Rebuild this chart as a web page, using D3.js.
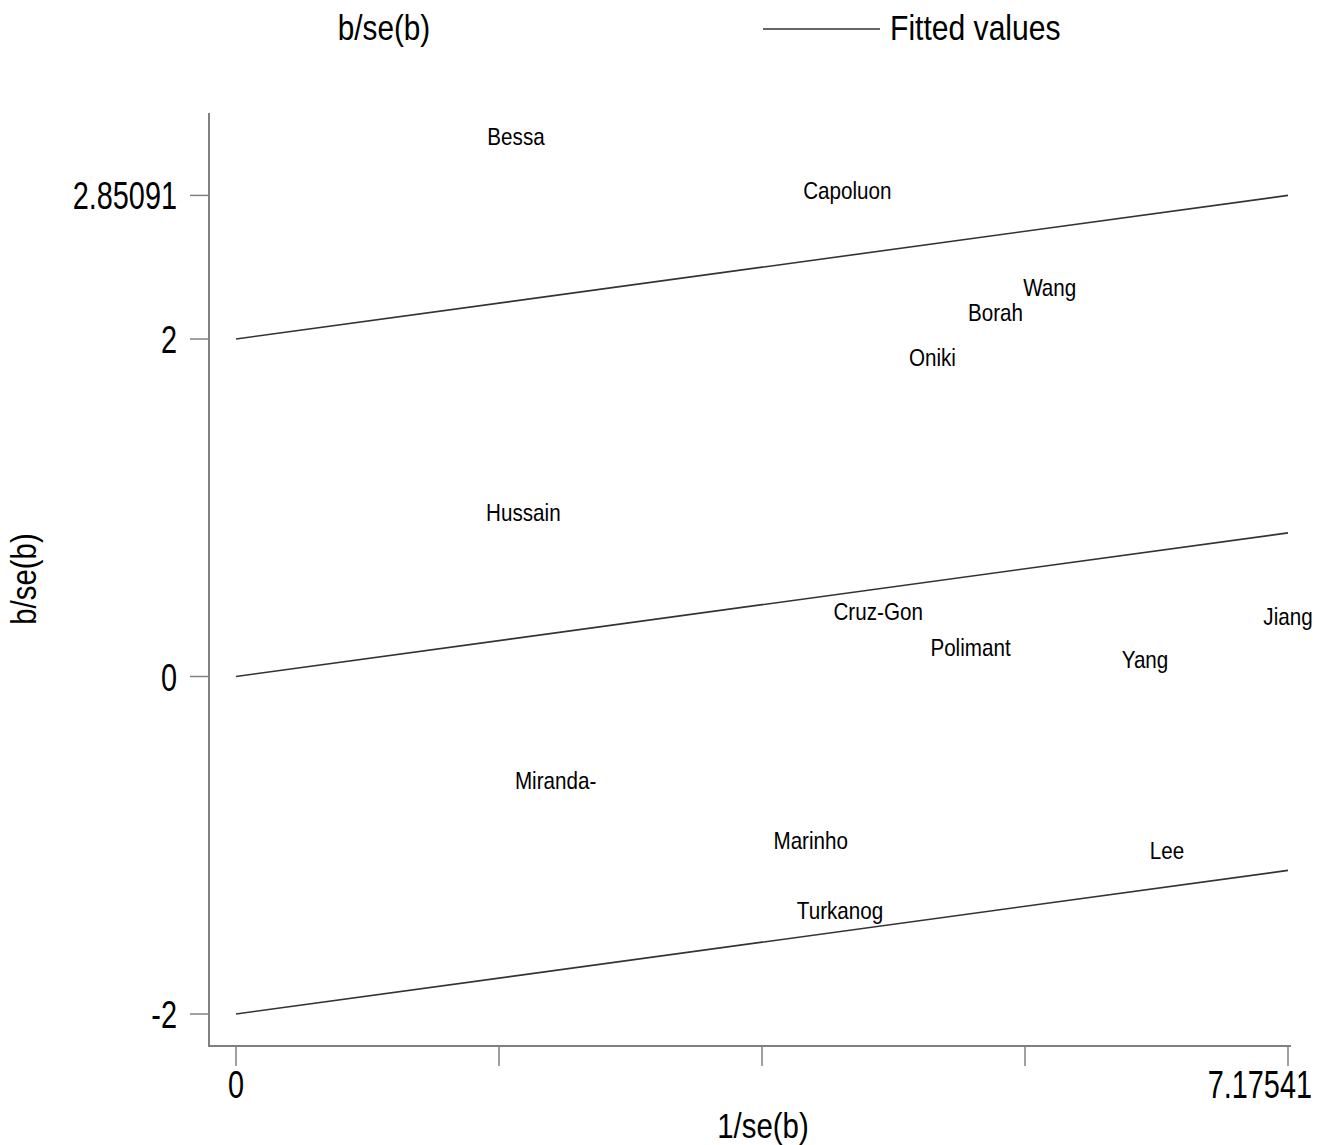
<!DOCTYPE html>
<html>
<head>
<meta charset="utf-8">
<script src="https://cdn.jsdelivr.net/npm/d3@7"></script>
<style>
  html, body { margin: 0; padding: 0; background: #fff; }
  svg { display: block; font-family: "Liberation Sans", Arial, sans-serif; }
</style>
</head>
<body>
<svg id="chart" width="1319" height="1145"></svg>
<script>
// Galbraith plot: standardized effect b/se(b) against precision 1/se(b)
const studies = ["Bessa", "Capoluon", "Wang", "Borah", "Oniki", "Hussain", "Cruz-Gon", "Jiang",
                 "Polimant", "Yang", "Miranda-", "Marinho", "Lee", "Turkanog"];
const precision = [1.91, 4.17, 5.55, 5.18, 4.75, 1.96, 4.38, 7.17541, 5.01, 6.20, 2.18, 3.92, 6.35, 4.12];
const zScore = [3.20, 2.876, 2.30, 2.154, 1.89, 0.97, 0.385, 0.35, 0.17, 0.10, -0.62, -0.976, -1.036, -1.39];

// fitted regression line through origin plus the ±2 bands
const xRange = [0, 7.17541];
const fittedEnd = 0.85091;
const bandOffsets = [2, 0, -2];

const xTicks = [0, 1.79385, 3.5877, 5.38156, 7.17541];
const xTickLabels = ["0", "", "", "", "7.17541"];
const yTicks = [-2, 0, 2, 2.85091];
const yTickLabels = ["-2", "0", "2", "2.85091"];

const svg = d3.select("#chart");

const x = d3.scaleLinear().domain([0, 7.17541]).range([236, 1288]);
const y = d3.scaleLinear().domain([-2, 2]).range([1014, 339]);

const axisColor = "#808080";

// condensed text helper
function label(g, tx, ty, str, size, anchor, sx) {
  return g.append("text")
    .attr("transform", `translate(${tx},${ty}) scale(${sx},1)`)
    .attr("text-anchor", anchor || "middle")
    .attr("font-size", size)
    .attr("fill", "#000")
    .text(str);
}

// axes frame
svg.append("line").attr("x1", 209).attr("x2", 209).attr("y1", 113).attr("y2", 1046)
  .attr("stroke", axisColor).attr("stroke-width", 2);
svg.append("line").attr("x1", 208).attr("x2", 1291).attr("y1", 1046).attr("y2", 1046)
  .attr("stroke", axisColor).attr("stroke-width", 2);

// y ticks
yTicks.forEach((v, i) => {
  svg.append("line").attr("x1", 190).attr("x2", 209).attr("y1", y(v)).attr("y2", y(v))
    .attr("stroke", axisColor).attr("stroke-width", 1.5);
  label(svg, 177, y(v) + 14, yTickLabels[i], 38, "end", 0.76);
});

// x ticks
xTicks.forEach((v, i) => {
  svg.append("line").attr("x1", x(v)).attr("x2", x(v)).attr("y1", 1046).attr("y2", 1066)
    .attr("stroke", axisColor).attr("stroke-width", 1.5);
  if (xTickLabels[i]) {
    const last = i === xTicks.length - 1;
    label(svg, last ? x(v) + 24 : x(v), 1098, xTickLabels[i], 38, last ? "end" : "middle", 0.76);
  }
});

// axis titles
label(svg, 763, 1138, "1/se(b)", 35, "middle", 0.84);
svg.append("text")
  .attr("transform", `translate(36,579) rotate(-90) scale(0.84,1)`)
  .attr("text-anchor", "middle").attr("font-size", 35).attr("fill", "#000")
  .text("b/se(b)");

// fitted lines
bandOffsets.forEach(off => {
  svg.append("line")
    .attr("x1", x(xRange[0])).attr("y1", y(off))
    .attr("x2", x(xRange[1])).attr("y2", y(off + fittedEnd))
    .attr("stroke", "#333").attr("stroke-width", 1.6);
});

// study labels as markers
studies.forEach((s, i) => {
  label(svg, x(precision[i]), y(zScore[i]) + 8, s, 24, "middle", 0.86);
});

// legend
label(svg, 384, 40, "b/se(b)", 35, "middle", 0.85);
svg.append("line").attr("x1", 763).attr("x2", 880).attr("y1", 29).attr("y2", 29)
  .attr("stroke", "#333").attr("stroke-width", 1.6);
label(svg, 890, 40, "Fitted values", 35, "start", 0.86);
</script>
</body>
</html>
